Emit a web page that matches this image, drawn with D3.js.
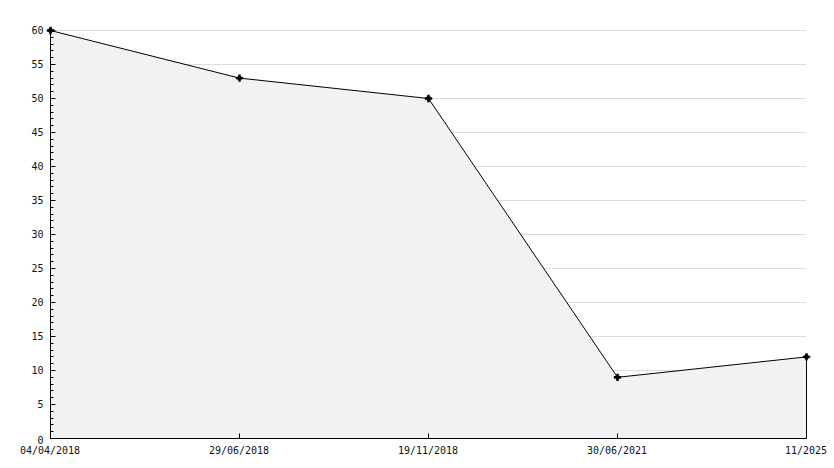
<!DOCTYPE html>
<html>
<head>
<meta charset="utf-8">
<script src="https://cdn.jsdelivr.net/npm/d3@7"></script>
<style>
  body { margin: 0; background: #fff; }
  text { font-family: "DejaVu Sans Mono", monospace; font-size: 10px; fill: #111; }
</style>
</head>
<body>
<svg id="chart"></svg>
<script>
// data
var dates = ["04/04/2018", "29/06/2018", "19/11/2018", "30/06/2021", "11/2025"];
var values = [60, 53, 50, 9, 12];
var yTicks = [0, 5, 10, 15, 20, 25, 30, 35, 40, 45, 50, 55, 60];

var width = 834, height = 468,
  margin = {top: 30, right: 28, bottom: 30, left: 50};

var svg = d3.select("#chart").attr("width", width).attr("height", height);

var x = d3.scalePoint().domain(dates).range([margin.left, width - margin.right]);
var y = d3.scaleLinear().domain([0, 60]).range([height - margin.bottom, margin.top]);

var pts = dates.map(function(d, i) { return {date: d, value: values[i]}; });

// grid lines
svg.append("g").selectAll("line")
  .data(yTicks.filter(function(t) { return t > 0; }))
  .enter().append("line")
  .attr("x1", x.range()[0]).attr("x2", x.range()[1])
  .attr("y1", function(d) { return Math.round(y(d)) + 0.5; })
  .attr("y2", function(d) { return Math.round(y(d)) + 0.5; })
  .style("stroke", "#dcdcdc");

// area under the line
var area = d3.area()
  .x(function(d) { return x(d.date) + 0.5; })
  .y0(y(0) + 0.5)
  .y1(function(d) { return y(d.value) + 0.5; });
svg.append("path").datum(pts).attr("d", area).style("fill", "#f2f2f2");

// right edge of the area
svg.append("line")
  .attr("x1", x(dates[dates.length - 1]) + 0.5).attr("x2", x(dates[dates.length - 1]) + 0.5)
  .attr("y1", y(values[values.length - 1])).attr("y2", y(0))
  .style("stroke", "#000");

// y axis with minor ticks
var yAxis = svg.append("g").attr("transform", "translate(" + (margin.left + 0.5) + ",0)");
yAxis.append("line").attr("y1", y(60)).attr("y2", y(0) + 0.5).style("stroke", "#000");
yAxis.selectAll(".minor").data(d3.range(0, 61, 1)).enter().append("line")
  .attr("x1", 0).attr("x2", function(d) { return d % 5 === 0 ? 5 : 3; })
  .attr("y1", function(d) { return Math.round(y(d)) + 0.5; })
  .attr("y2", function(d) { return Math.round(y(d)) + 0.5; })
  .style("stroke", "#000");
yAxis.selectAll("text").data(yTicks).enter().append("text")
  .attr("x", -7)
  .attr("y", function(d) { return y(d) + (d === 0 ? 2 : 0); })
  .attr("dy", "0.35em")
  .style("text-anchor", "end")
  .text(function(d) { return d; });

// x axis
var xAxis = svg.append("g").attr("transform", "translate(0," + (y(0) + 0.5) + ")");
xAxis.append("line").attr("x1", x.range()[0]).attr("x2", x.range()[1] + 0.5).style("stroke", "#000");
xAxis.selectAll(".tick").data(dates).enter().append("line")
  .attr("x1", function(d) { return x(d) + 0.5; }).attr("x2", function(d) { return x(d) + 0.5; })
  .attr("y1", 0).attr("y2", -5)
  .style("stroke", "#000");
xAxis.selectAll("text").data(dates).enter().append("text")
  .attr("x", function(d) { return x(d); })
  .attr("y", 15)
  .style("text-anchor", "middle")
  .text(function(d) { return d; });

// line
var line = d3.line()
  .x(function(d) { return x(d.date) + 0.5; })
  .y(function(d) { return y(d.value) + 0.5; });
svg.append("path").datum(pts).attr("d", line)
  .style("fill", "none").style("stroke", "#000").style("stroke-width", 1);

// markers: small filled star-like blobs
var marks = svg.selectAll(".dot").data(pts).enter().append("g")
  .attr("transform", function(d) { return "translate(" + (x(d.date) + 0.5) + "," + (y(d.value) + 0.5) + ")"; });
marks.append("path").attr("d", d3.symbol(d3.symbolCross, 30)).style("fill", "#000");
marks.append("circle").attr("r", 2.4).style("fill", "#000");
</script>
</body>
</html>
